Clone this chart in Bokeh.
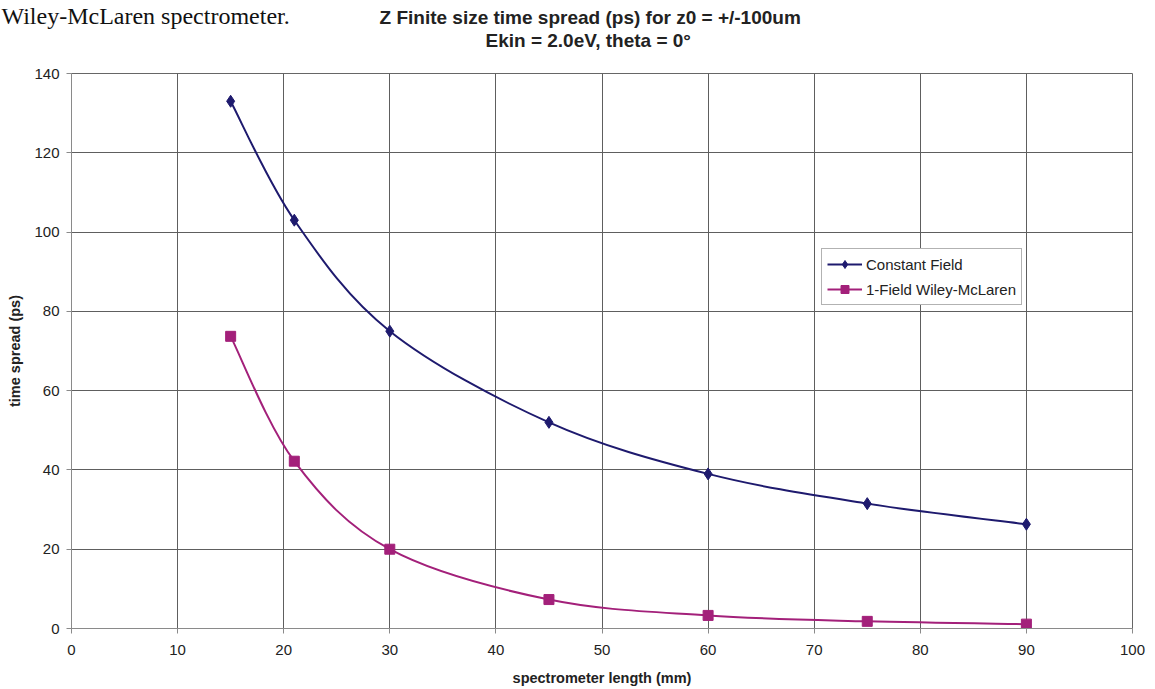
from bokeh.plotting import figure
from bokeh.models import Range1d, SingleIntervalTicker, Legend, LegendItem, Title
from bokeh.embed import file_html
from bokeh.resources import INLINE

# spectrometer length (mm)
lengths = [15, 21, 30, 45, 60, 75, 90]
# time spread (ps)
constant_field = [133.0, 103.0, 75.0, 52.0, 39.0, 31.5, 26.3]
wiley_mclaren = [73.7, 42.2, 20.0, 7.3, 3.3, 1.8, 1.1]

series_names = ["Constant Field", "1-Field Wiley-McLaren"]
series_colors = ["#1e1a6e", "#a3207a"]

title_lines = ["Z Finite size time spread (ps) for z0 = +/-100um",
               "Ekin = 2.0eV, theta = 0\u00b0"]
page_text = "Wiley-McLaren spectrometer."

SANS = "Liberation Sans"


def smooth_segments(xs, ys):
    """Catmull-Rom style cubic Bezier segments through the points."""
    n = len(xs)
    seg = dict(x0=[], y0=[], x1=[], y1=[], cx0=[], cy0=[], cx1=[], cy1=[])
    for i in range(n - 1):
        a = max(i - 1, 0)
        d = min(i + 2, n - 1)
        seg["x0"].append(xs[i]); seg["y0"].append(ys[i])
        seg["x1"].append(xs[i + 1]); seg["y1"].append(ys[i + 1])
        seg["cx0"].append(xs[i] + (xs[i + 1] - xs[a]) / 6.0)
        seg["cy0"].append(ys[i] + (ys[i + 1] - ys[a]) / 6.0)
        seg["cx1"].append(xs[i + 1] - (xs[d] - xs[i]) / 6.0)
        seg["cy1"].append(ys[i + 1] - (ys[d] - ys[i]) / 6.0)
    return seg


p = figure(width=1155, height=689, output_backend="svg", toolbar_location=None,
           x_range=Range1d(0, 100), y_range=Range1d(0, 140),
           min_border_left=71, min_border_right=23, min_border_top=73,
           min_border_bottom=61)
p.background_fill_color = "white"
p.border_fill_color = "white"
p.outline_line_color = "#666666"
p.outline_line_width = 1

p.xaxis.ticker = SingleIntervalTicker(interval=10)
p.yaxis.ticker = SingleIntervalTicker(interval=20)
for ax in (p.xaxis[0], p.yaxis[0]):
    ax.axis_line_color = "#8a8a8a"
    ax.major_tick_line_color = "#8a8a8a"
    ax.major_tick_out = 5
    ax.major_tick_in = 0
    ax.minor_tick_line_color = None
    ax.major_label_text_font = SANS
    ax.major_label_text_font_size = "15px"
    ax.major_label_text_color = "#222222"
    ax.axis_label_text_font = SANS
    ax.axis_label_text_font_size = "14.5px"
    ax.axis_label_text_font_style = "bold"
    ax.axis_label_text_color = "#222222"

p.xaxis.axis_label = "spectrometer length (mm)"
p.yaxis.axis_label = "time spread (ps)"
p.xaxis.major_label_standoff = 11
p.xaxis.axis_label_standoff = 12
p.yaxis.major_label_standoff = 7
p.yaxis.axis_label_standoff = 8

for g in (p.xgrid[0], p.ygrid[0]):
    g.grid_line_color = "#5e5e5e"
    g.grid_line_width = 1

items = []
for ys, name, color, marker in zip([constant_field, wiley_mclaren], series_names,
                                   series_colors, ["diamond", "square"]):
    seg = smooth_segments(lengths, ys)
    p.bezier(line_color=color, line_width=2, **seg)
    pts = p.scatter(lengths, ys, marker=marker, size=12 if marker == "diamond" else 10,
                    fill_color=color, line_color=color)
    leg_line = p.line([lengths[0], lengths[1]], [ys[0], ys[1]], line_color=color,
                      line_width=2, visible=False)
    items.append(LegendItem(label=name, renderers=[leg_line, pts]))

legend = Legend(items=items, location=(750, 323), border_line_color="#666666",
                border_line_width=1, background_fill_color="white", background_fill_alpha=1,
                label_text_font=SANS, label_text_font_size="15px",
                label_text_color="#222222", padding=5, spacing=5, margin=0,
                glyph_width=35, glyph_height=20, label_height=20, label_standoff=4)
p.add_layout(legend, "center")

# title lines stacked above the plot (first added sits closest to the frame)
p.add_layout(Title(text=title_lines[1], align="left", offset=414, standoff=45,
                   text_font=SANS, text_font_size="19px", text_font_style="bold",
                   text_color="#222222"), "above")
p.add_layout(Title(text=title_lines[0], align="left", offset=308, standoff=-44.4,
                   text_font=SANS, text_font_size="19px", text_font_style="bold",
                   text_color="#222222"), "above")
# running text of the surrounding page, at the top-left corner
p.add_layout(Title(text=page_text, align="left", offset=-70, standoff=-47.8,
                   text_font="Liberation Serif", text_font_size="24px",
                   text_font_style="normal", text_color="#111111"), "above")

open("out.html", "w").write(file_html(p, INLINE))
